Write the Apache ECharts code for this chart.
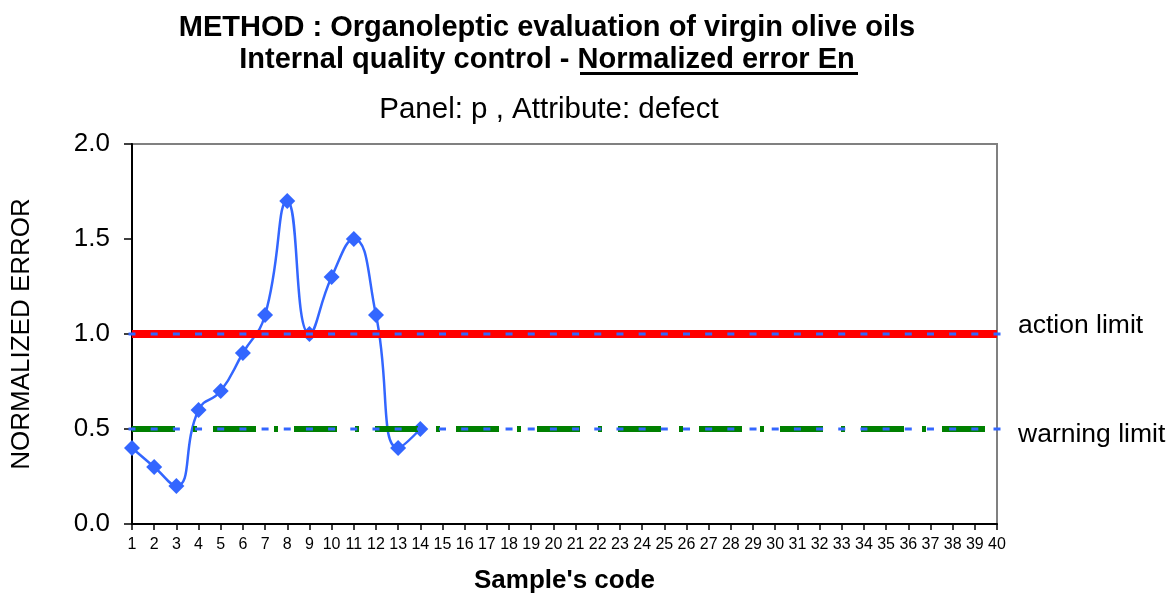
<!DOCTYPE html>
<html>
<head>
<meta charset="utf-8">
<script src="https://cdn.jsdelivr.net/npm/echarts@6/dist/echarts.min.js"></script>
<style>
html,body{margin:0;padding:0;background:#fff;overflow:hidden;}
#chart{width:1170px;height:599px;}
</style>
</head>
<body>
<div id="chart"></div>
<script>
// ---- Data ----
const categories = ['1','2','3','4','5','6','7','8','9','10','11','12','13','14','15','16','17','18','19','20',
  '21','22','23','24','25','26','27','28','29','30','31','32','33','34','35','36','37','38','39','40'];
const normalizedError = [0.4, 0.3, 0.2, 0.6, 0.7, 0.9, 1.1, 1.7, 1.0, 1.3, 1.5, 1.1, 0.4, 0.5];
const actionLimit = [1,1,1,1,1,1,1,1,1,1,1,1,1,1,1,1,1,1,1,1,1,1,1,1,1,1,1,1,1,1,1,1,1,1,1,1,1,1,1,1];
const warningLimit = [0.5,0.5,0.5,0.5,0.5,0.5,0.5,0.5,0.5,0.5,0.5,0.5,0.5,0.5,0.5,0.5,0.5,0.5,0.5,0.5,
  0.5,0.5,0.5,0.5,0.5,0.5,0.5,0.5,0.5,0.5,0.5,0.5,0.5,0.5,0.5,0.5,0.5,0.5,0.5,0.5];
const yTicks = [0, 0.5, 1.0, 1.5, 2.0];
const titleLine1 = 'METHOD : Organoleptic evaluation of virgin olive oils';
const titleLine2a = 'Internal quality control - ';
const titleLine2b = 'Normalized error En';
const subtitle = 'Panel: p , Attribute: defect';

const FONT = 'Liberation Sans, Arial, sans-serif';
const BLUE = '#3366FF';

const chart = echarts.init(document.getElementById('chart'), null, {renderer: 'canvas'});
chart.setOption({
  animation: false,
  backgroundColor: '#ffffff',
  grid: {left: 132, right: 173, top: 144, bottom: 69, show: true, borderColor: '#808080', borderWidth: 2, containLabel: false},
  graphic: [
    {type: 'text', x: 547, y: 28, style: {text: titleLine1, textAlign: 'center', textVerticalAlign: 'middle', font: 'bold 29px ' + FONT, fill: '#000'}},
    {type: 'text', x: 547, y: 60, style: {
      text: '{a|' + titleLine2a + '}{b|' + titleLine2b + '}', textAlign: 'center', textVerticalAlign: 'middle',
      rich: {a: {font: 'bold 29px ' + FONT, fill: '#000'}, b: {font: 'bold 29px ' + FONT, fill: '#000'}}
    }},
    {type: 'line', shape: {x1: 580, y1: 73.5, x2: 858, y2: 73.5}, style: {stroke: '#000', lineWidth: 3}},
    {type: 'text', x: 549, y: 110, style: {text: subtitle, textAlign: 'center', textVerticalAlign: 'middle', font: '29.5px ' + FONT, fill: '#000'}}
  ],
  xAxis: {
    type: 'category', data: categories, boundaryGap: false,
    name: "Sample's code", nameLocation: 'middle', nameGap: 44,
    nameTextStyle: {fontFamily: FONT, fontWeight: 'bold', fontSize: 26, color: '#000'},
    axisLine: {lineStyle: {color: '#000', width: 2}},
    axisTick: {show: true, length: 6, alignWithLabel: true, lineStyle: {color: '#000', width: 1.5}},
    axisLabel: {interval: 0, margin: 13, fontFamily: FONT, fontSize: 16, color: '#000'},
    splitLine: {show: false}
  },
  yAxis: {
    type: 'value', min: 0, max: 2, interval: 0.5,
    name: 'NORMALIZED ERROR', nameLocation: 'middle', nameGap: 97, nameRotate: 90,
    nameTextStyle: {fontFamily: FONT, fontSize: 26, color: '#000'},
    axisLine: {show: true, lineStyle: {color: '#000', width: 2}},
    axisTick: {show: true, length: 8, lineStyle: {color: '#000', width: 1.5}},
    axisLabel: {margin: 22, fontFamily: FONT, fontSize: 26, color: '#000',
      formatter: v => yTicks.includes(v) ? v.toFixed(1) : ''},
    splitLine: {show: false}
  },
  series: [
    {
      name: 'En', type: 'line', data: normalizedError, smooth: 0.5,
      symbol: 'diamond', symbolSize: 16,
      lineStyle: {color: BLUE, width: 2.5}, itemStyle: {color: BLUE},
      z: 2
    },
    {
      name: 'action limit', type: 'line', data: actionLimit,
      symbol: 'rect', symbolSize: [7, 3], showAllSymbol: true,
      lineStyle: {color: '#FF0000', width: 8, cap: 'butt'}, itemStyle: {color: BLUE},
      endLabel: {show: true, formatter: 'action limit', distance: 21, offset: [0, -8], fontFamily: FONT, fontSize: 26.5, color: '#000'},
      z: 3
    },
    {
      name: 'warning limit', type: 'line', data: warningLimit,
      symbol: 'rect', symbolSize: [7, 3], showAllSymbol: true,
      lineStyle: {color: '#008000', width: 6, type: [43, 18, 4, 16], cap: 'butt'}, itemStyle: {color: BLUE},
      endLabel: {show: true, formatter: 'warning limit', distance: 21, offset: [0, 6], fontFamily: FONT, fontSize: 26.5, color: '#000'},
      z: 3
    }
  ]
});
</script>
</body>
</html>
